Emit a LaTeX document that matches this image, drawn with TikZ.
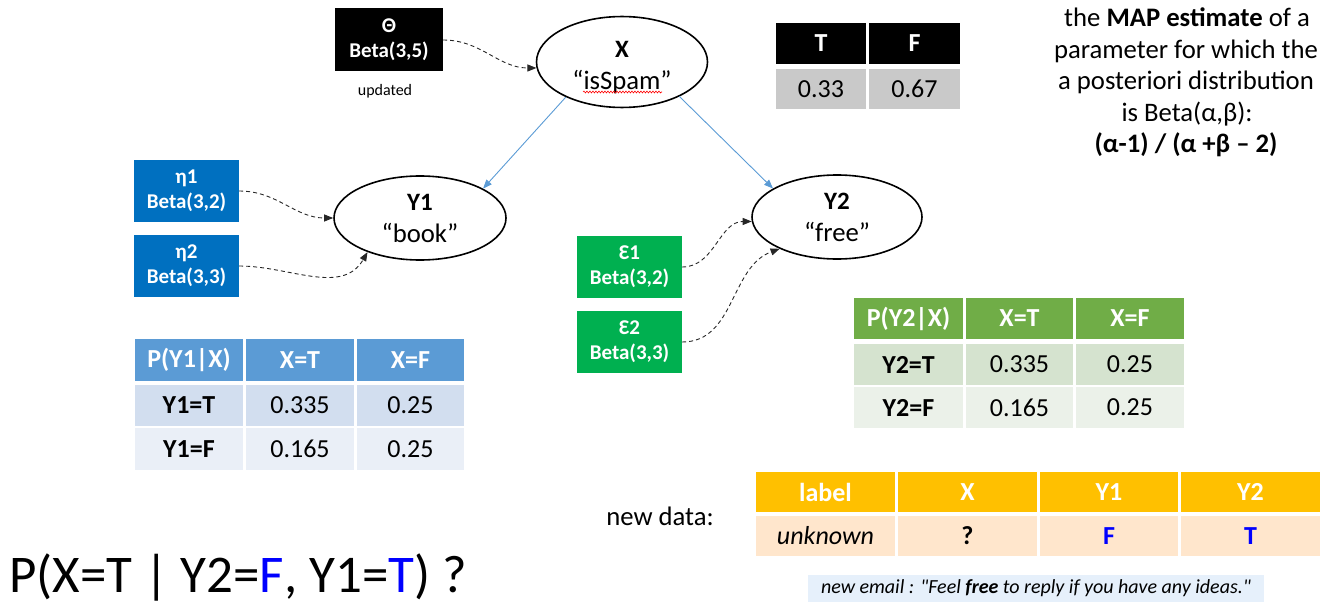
\documentclass[tikz,border=0pt]{standalone}
\usepackage{fontspec}
\setmainfont{Carlito}[Ligatures=TeXOff]
\usetikzlibrary{arrows.meta,shapes.geometric,decorations.pathmorphing}
\definecolor{boxblue}{HTML}{0070C0}
\definecolor{boxgreen}{HTML}{00B050}
\definecolor{hdblue}{HTML}{5B9BD5}
\definecolor{rowblueA}{HTML}{D2DEEF}
\definecolor{rowblueB}{HTML}{EAEFF7}
\definecolor{hdgreen}{HTML}{70AD47}
\definecolor{rowgreenA}{HTML}{D5E3CF}
\definecolor{rowgreenB}{HTML}{EBF1E9}
\definecolor{tgray}{HTML}{C9C9C9}
\definecolor{hdgold}{HTML}{FFC000}
\definecolor{rowpeach}{HTML}{FFE6CC}
\definecolor{emailbg}{HTML}{E6F0FB}
\definecolor{textblue}{HTML}{0000FF}
\newcommand\tcell[7]{\node[cellbase,fill=#6,minimum width={#4-#2},minimum height={#5-#3}] (#1) at ({(#2+#4)/2},{(#3+#5)/2}) {#7};}
\begin{document}
\begin{tikzpicture}[x=1pt,y=-1pt,
  cellbase/.style={rectangle,draw=none,inner sep=0pt,font=\fontsize{26}{31}\selectfont},
  parambox/.style={rectangle,draw=none,inner sep=0pt,minimum width=105pt,minimum height=62pt,align=center,text=white,font=\fontsize{21}{25}\selectfont\bfseries},
  varnode/.style={ellipse,draw=black,line width=1.6pt,inner sep=0pt,align=center,font=\fontsize{26.7}{32}\selectfont},
  dasharrow/.style={draw=black!85,line width=0.9pt,dash pattern=on 4pt off 3pt,-{Triangle[length=9pt,width=7pt]}},
  bluearrow/.style={draw=hdblue,line width=0.9pt,-{Triangle[length=9pt,width=7pt]}},
  plain/.style={inner sep=0pt,font=\fontsize{26.7}{32}\selectfont}]
\useasboundingbox (0,0) rectangle (1325,615);

% parameter boxes
\node[parambox,fill=black,minimum width=108pt,minimum height=63pt] (theta) at (389,40) {Θ\\Beta(3,5)};
\node[plain,font=\fontsize{16}{19}\selectfont] (upd) at (385,91) {updated};
\node[parambox,fill=boxblue] (eta1) at (186.5,191) {η1\\Beta(3,2)};
\node[parambox,fill=boxblue] (eta2) at (186.5,266) {η2\\Beta(3,3)};
\node[parambox,fill=boxgreen] (eps1) at (629.5,267) {Ɛ1\\Beta(3,2)};
\node[parambox,fill=boxgreen] (eps2) at (629.5,342) {Ɛ2\\Beta(3,3)};

% variable ellipses
\node[varnode,minimum width=171pt,minimum height=88pt] (X) at (622,62) {{\fontsize{25}{32}\selectfont\bfseries\rule{0pt}{28pt}X}\\“isSpam”};
\node[varnode,minimum width=172pt,minimum height=84pt] (Y1) at (420,218) {{\fontsize{25}{32}\selectfont\bfseries Y1}\\“book”};
\node[varnode,minimum width=170pt,minimum height=84pt] (Y2) at (837,217) {{\fontsize{25}{32}\selectfont\bfseries Y2}\\“free”};
\draw[red,line width=0.6pt,decorate,decoration={snake,amplitude=0.9pt,segment length=3pt}] (583,92) -- (662,92);

% connectors
\draw[bluearrow] (X.212) -- (Y1.25);
\draw[bluearrow] (X.329) -- (Y2.156);
\draw[dasharrow] (theta.east) to[out=0,in=180] (X.184);
\draw[dasharrow] (eta1.east) to[out=0,in=180] (Y1.180);
\draw[dasharrow] (eta2.east) to[out=0,in=240] (Y1.213);
\draw[dasharrow] (eps1.east) to[out=0,in=180] (Y2.183);
\draw[dasharrow] (eps2.east) to[out=0,in=200] (Y2.209);

% prior table
\tcell{tT}{776}{23}{866}{64}{black}{\color{white}\bfseries T}
\tcell{tF}{869}{23}{960}{64}{black}{\color{white}\bfseries F}
\tcell{tv1}{776}{69}{866}{109}{tgray}{0.33}
\tcell{tv2}{869}{69}{960}{109}{tgray}{0.67}

% MAP text
\node[plain,anchor=base] (m1) at (1187,27) {the \textbf{MAP estimate} of a};
\node[plain,anchor=base] (m2) at (1186,58.5) {parameter for which the};
\node[plain,anchor=base] (m3) at (1186,90) {a posteriori distribution};
\node[plain,anchor=base] (m4) at (1187,121.5) {is Beta(α,β):};
\node[plain,anchor=base] (m5) at (1186,153) {\bfseries (α-1) / (α +β – 2)};

% P(Y1|X)
\tcell{a00}{135}{339}{243}{381}{hdblue}{\color{white}\bfseries P(Y1|X)}
\tcell{a01}{246}{339}{354}{381}{hdblue}{\color{white}\bfseries X=T}
\tcell{a02}{357}{339}{464}{381}{hdblue}{\color{white}\bfseries X=F}
\tcell{a10}{135}{385}{243}{426}{rowblueA}{\bfseries Y1=T}
\tcell{a11}{246}{385}{354}{426}{rowblueA}{0.335}
\tcell{a12}{357}{385}{464}{426}{rowblueA}{0.25}
\tcell{a20}{135}{428}{243}{470}{rowblueB}{\bfseries Y1=F}
\tcell{a21}{246}{428}{354}{470}{rowblueB}{0.165}
\tcell{a22}{357}{428}{464}{470}{rowblueB}{0.25}

% P(Y2|X)
\tcell{b00}{854}{298}{963}{339}{hdgreen}{\color{white}\bfseries P(Y2|X)}
\tcell{b01}{966}{298}{1073}{339}{hdgreen}{\color{white}\bfseries X=T}
\tcell{b02}{1076}{298}{1184}{339}{hdgreen}{\color{white}\bfseries X=F}
\tcell{b10}{854}{344}{963}{385}{rowgreenA}{\bfseries Y2=T}
\tcell{b11}{966}{344}{1073}{385}{rowgreenA}{0.335}
\tcell{b12}{1076}{344}{1184}{385}{rowgreenA}{0.25}
\tcell{b20}{854}{387}{963}{428}{rowgreenB}{\bfseries Y2=F}
\tcell{b21}{966}{387}{1073}{428}{rowgreenB}{0.165}
\tcell{b22}{1076}{387}{1184}{428}{rowgreenB}{0.25}

% new data
\node[plain] (nd) at (660,516) {new data:};
\tcell{c00}{756}{472}{895}{512}{hdgold}{\color{white}\bfseries label}
\tcell{c01}{898}{472}{1037}{512}{hdgold}{\color{white}\bfseries X}
\tcell{c02}{1040}{472}{1178}{512}{hdgold}{\color{white}\bfseries Y1}
\tcell{c03}{1181}{472}{1320}{512}{hdgold}{\color{white}\bfseries Y2}
\tcell{c10}{756}{516}{895}{556}{rowpeach}{\itshape unknown}
\tcell{c11}{898}{516}{1037}{556}{rowpeach}{\bfseries ?}
\tcell{c12}{1040}{516}{1178}{556}{rowpeach}{\color{textblue}\bfseries F}
\tcell{c13}{1181}{516}{1320}{556}{rowpeach}{\color{textblue}\bfseries T}
\node[rectangle,fill=emailbg,inner sep=0pt,minimum width=456pt,minimum height=27pt,font=\fontsize{20}{24}\selectfont\itshape] (mail) at (1036,588) {new email : "Feel \textbf{free} to reply if you have any ideas."};

% query
\node[plain,anchor=base west,font=\fontsize{53}{60}\selectfont] (q) at (9,592) {P(X=T | Y2=\textcolor{textblue}{F}, Y1=\textcolor{textblue}{T}) ?};
\end{tikzpicture}
\end{document}
